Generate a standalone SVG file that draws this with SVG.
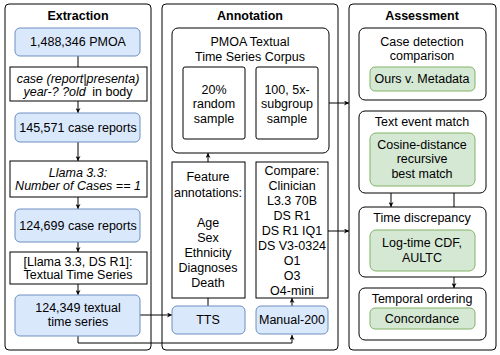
<svg xmlns="http://www.w3.org/2000/svg" width="500" height="355" viewBox="0 0 500 355">
<style>
text{font-family:"Liberation Sans",Arial,sans-serif;font-size:12.5px;fill:#000;text-anchor:middle}
.t{font-weight:bold}
.i{font-style:italic}
.panel{fill:none;stroke:#000;stroke-width:1}
.blue{fill:#dae8fc;stroke:#6c8ebf;stroke-width:1}
.green{fill:#d5e8d4;stroke:#82b366;stroke-width:1}
.box{fill:#fff;stroke:#000;stroke-width:1}
.c{fill:none;stroke:#000;stroke-width:1}
</style>
<defs>
<marker id="a" viewBox="0 0 10 10" refX="10" refY="5" markerWidth="5" markerHeight="5" orient="auto" markerUnits="userSpaceOnUse">
<path d="M0,0 L10,5 L0,10 L3,5 Z" fill="#000"/>
</marker>
</defs>
<rect width="500" height="355" fill="#fff"/>
<g id="connectors">
<path class="c" d="M78,56 V67"/>
<path class="c" d="M78,101 V113" marker-end="url(#a)"/>
<path class="c" d="M78,142 V161" marker-end="url(#a)"/>
<path class="c" d="M78,197 V209" marker-end="url(#a)"/>
<path class="c" d="M78,242 V252" marker-end="url(#a)"/>
<path class="c" d="M78,284 V295" marker-end="url(#a)"/>
<path class="c" d="M140,315 H172" marker-end="url(#a)"/>
<path class="c" d="M78,336 V343 H292 V335" marker-end="url(#a)"/>
<path class="c" d="M208,162 V153" marker-end="url(#a)"/>
<path class="c" d="M208,298 V306"/>
<path class="c" d="M292,306 V298" marker-end="url(#a)"/>
<path class="c" d="M318,103 H349" marker-end="url(#a)"/>
<path class="c" d="M328,231 H349" marker-end="url(#a)"/>
<path class="c" d="M391,193 V207" marker-end="url(#a)"/>
<path class="c" d="M454,193 V288" marker-end="url(#a)"/>
</g>
<g id="extraction">
<rect class="panel" x="5" y="4" width="146" height="346" rx="4"/>
<text class="t" x="78" y="20">Extraction</text>
</g>
<g id="pmoa">
<rect class="blue" x="15" y="28" width="125" height="28" rx="5"/>
<text x="78" y="46">1,488,346 PMOA</text>
</g>
<g id="regex">
<rect class="box" x="10" y="67" width="137" height="34"/>
<text x="78" y="83"><tspan class="i">case (report|presenta)</tspan></text>
<text x="78" y="96"><tspan class="i">year-? ?old</tspan><tspan dx="3"> in body</tspan></text>
</g>
<g id="cases145">
<rect class="blue" x="15" y="113" width="125" height="29" rx="5"/>
<text x="78" y="132">145,571 case reports</text>
</g>
<g id="llama">
<rect class="box" x="10" y="161" width="137" height="36"/>
<text class="i" x="78" y="177">Llama 3.3:</text>
<text class="i" x="78" y="190">Number of Cases == 1</text>
</g>
<g id="cases124">
<rect class="blue" x="15" y="209" width="125" height="33" rx="5"/>
<text x="78" y="230">124,699 case reports</text>
</g>
<g id="tts-extract">
<rect class="box" x="10" y="252" width="137" height="32"/>
<text x="78" y="266">[Llama 3.3, DS R1]:</text>
<text x="78" y="279">Textual Time Series</text>
</g>
<g id="tts124">
<rect class="blue" x="15" y="295" width="125" height="41" rx="5"/>
<text x="78" y="312">124,349 textual</text>
<text x="78" y="326">time series</text>
</g>
<g id="annotation">
<rect class="panel" x="162" y="4" width="176" height="346" rx="4"/>
<text class="t" x="250" y="20">Annotation</text>
</g>
<g id="corpus">
<rect class="box" x="172" y="28" width="157" height="125" rx="6"/>
<text x="250" y="46">PMOA Textual</text>
<text x="250" y="61">Time Series Corpus</text>
</g>
<g id="random">
<rect class="box" x="183" y="67" width="62" height="72" rx="2"/>
<text x="214" y="94">20%</text>
<text x="214" y="108">random</text>
<text x="214" y="123">sample</text>
</g>
<g id="subgroup">
<rect class="box" x="256" y="67" width="62" height="72" rx="2"/>
<text x="287" y="94">100, 5x-</text>
<text x="287" y="108">subgroup</text>
<text x="287" y="123">sample</text>
</g>
<g id="features">
<rect class="box" x="172" y="162" width="73" height="136"/>
<text x="208" y="181">Feature</text>
<text x="208" y="197">annotations:</text>
<text x="208" y="227">Age</text>
<text x="208" y="242">Sex</text>
<text x="208" y="257">Ethnicity</text>
<text x="208" y="272">Diagnoses</text>
<text x="208" y="287">Death</text>
</g>
<g id="compare">
<rect class="box" x="256" y="162" width="72" height="136"/>
<text x="292" y="175">Compare:</text>
<text x="292" y="190">Clinician</text>
<text x="292" y="205">L3.3 70B</text>
<text x="292" y="220">DS R1</text>
<text x="292" y="235">DS R1 IQ1</text>
<text x="292" y="250">DS V3-0324</text>
<text x="292" y="265">O1</text>
<text x="292" y="280">O3</text>
<text x="292" y="295">O4-mini</text>
</g>
<g id="tts">
<rect class="blue" x="172" y="306" width="73" height="28" rx="5"/>
<text x="208" y="324">TTS</text>
</g>
<g id="manual">
<rect class="blue" x="256" y="306" width="72" height="28" rx="5"/>
<text x="292" y="324">Manual-200</text>
</g>
<g id="assessment">
<rect class="panel" x="349" y="4" width="147" height="346" rx="4"/>
<text class="t" x="422" y="20">Assessment</text>
</g>
<g id="casedetect">
<rect class="box" x="359" y="28" width="127" height="72" rx="6"/>
<text x="422" y="46">Case detection</text>
<text x="422" y="60">comparison</text>
<rect class="green" x="370" y="67" width="105" height="24" rx="5"/>
<text x="422" y="83">Ours v. Metadata</text>
</g>
<g id="textmatch">
<rect class="box" x="359" y="111" width="127" height="82" rx="6"/>
<text x="422" y="126">Text event match</text>
<rect class="green" x="370" y="133" width="105" height="53" rx="6"/>
<text x="422" y="149">Cosine-distance</text>
<text x="422" y="163">recursive</text>
<text x="422" y="178">best match</text>
</g>
<g id="timediscrep">
<rect class="box" x="359" y="207" width="127" height="70" rx="6"/>
<text x="422" y="222">Time discrepancy</text>
<rect class="green" x="370" y="230" width="105" height="41" rx="6"/>
<text x="422" y="247">Log-time CDF,</text>
<text x="422" y="262">AULTC</text>
</g>
<g id="temporal">
<rect class="box" x="359" y="288" width="127" height="52" rx="6"/>
<text x="422" y="303">Temporal ordering</text>
<rect class="green" x="370" y="308" width="105" height="21" rx="5"/>
<text x="422" y="323">Concordance</text>
</g>
</svg>
